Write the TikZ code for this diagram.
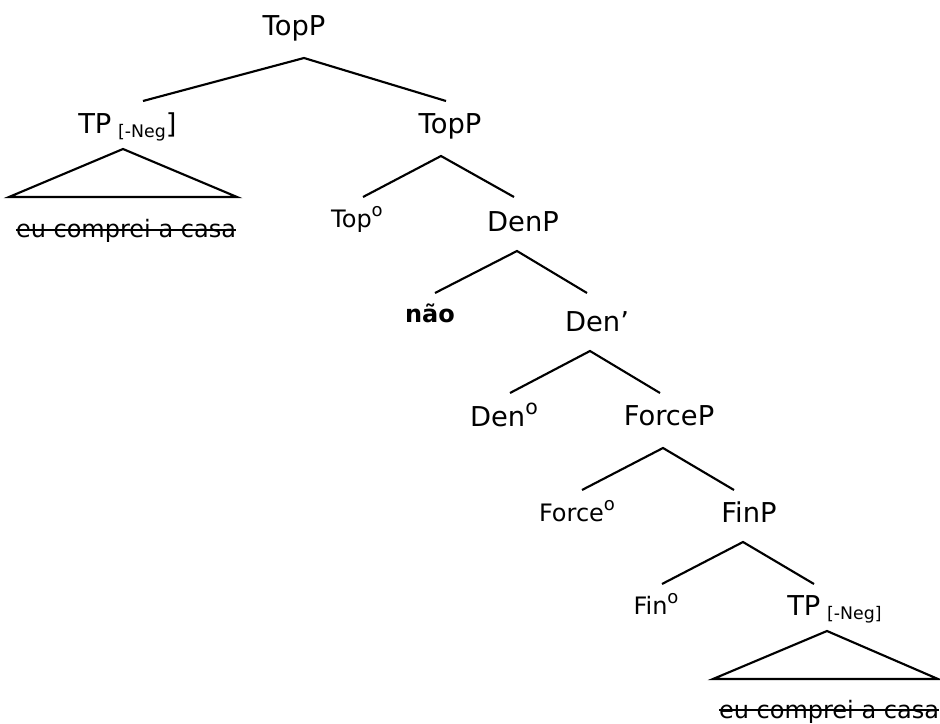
\documentclass[tikz,border=0pt]{standalone}
\usepackage{fontspec}
\setmainfont{DejaVu Sans}
\usepackage{graphicx}
\usepackage{tikz}
\newcommand{\negsub}[1]{\raisebox{-3pt}{\fontsize{13}{15}\selectfont #1}}
% raised small o for the heads
\newcommand{\ordo}{\raisebox{0.42em}{\scalebox{0.75}{o}}}
\tikzset{
  cat/.style={inner sep=0pt, anchor=base, font=\fontsize{20.5}{24}\selectfont},
  hd/.style={inner sep=0pt, anchor=base, font=\fontsize{18}{21}\selectfont},
  gone/.style={inner sep=0pt, anchor=base, font=\fontsize{18}{21}\selectfont},
  branch/.style={line width=1.6pt},
}

\begin{document}
\begin{tikzpicture}[x=0.75pt, y=-0.75pt]
\useasboundingbox (0,0) rectangle (940,724);

% labels, placed on their baselines
\node[cat] (TopA) at (294,36) {TopP};
\node[cat, anchor=base west] (TPa) at (78,133) {TP\hspace{5pt}\negsub{[-Neg}]};
\node[gone] (Sa) at (126,238) {eu comprei a casa};
\node[cat] (TopB) at (450,133) {TopP};
\node[hd] (Top0) at (357,227) {Top\ordo};
\node[cat] (Den) at (523,231) {DenP};
\node[hd] (Nao) at (430,322) {\bfseries não};
\node[cat] (DenB) at (597,331) {Den’};
\node[cat] (Den0) at (504,426) {Den\ordo};
\node[cat] (Force) at (669,425) {ForceP};
\node[hd] (Force0) at (577,521) {Force\ordo};
\node[cat] (Fin) at (749,522) {FinP};
\node[hd] (Fin0) at (656,614) {Fin\ordo};
\node[cat, anchor=base west] (TPb) at (787,615) {TP\hspace{5pt}\negsub{[-Neg]}};
\node[gone] (Sb) at (829,718) {eu comprei a casa};

% strike through the unpronounced copies
\draw[branch] ([yshift=6pt]Sa.base west) -- ([yshift=6pt]Sa.base east);
\draw[branch] ([yshift=6pt]Sb.base west) -- ([yshift=6pt]Sb.base east);

% branch points
\coordinate (a0) at (304,58);  \coordinate (a1) at (143,101); \coordinate (a2) at (446,101);
\coordinate (b0) at (441,156); \coordinate (b1) at (363,197); \coordinate (b2) at (514,197);
\coordinate (c0) at (517,251); \coordinate (c1) at (435,293); \coordinate (c2) at (587,293);
\coordinate (d0) at (590,351); \coordinate (d1) at (510,393); \coordinate (d2) at (660,393);
\coordinate (e0) at (663,448); \coordinate (e1) at (582,490); \coordinate (e2) at (734,490);
\coordinate (f0) at (743,542); \coordinate (f1) at (662,584); \coordinate (f2) at (814,584);

\draw[branch] (a1) -- (a0) -- (a2);
\draw[branch] (b1) -- (b0) -- (b2);
\draw[branch] (c1) -- (c0) -- (c2);
\draw[branch] (d1) -- (d0) -- (d2);
\draw[branch] (e1) -- (e0) -- (e2);
\draw[branch] (f1) -- (f0) -- (f2);

% the two TP triangles
\coordinate (ta) at (123,149); \coordinate (tal) at (9,197);   \coordinate (tar) at (237,197);
\coordinate (tb) at (827,631); \coordinate (tbl) at (713,679); \coordinate (tbr) at (938,679);
\draw[branch] (ta) -- (tal) -- (tar) -- cycle;
\draw[branch] (tb) -- (tbl) -- (tbr) -- cycle;

\end{tikzpicture}
\end{document}
